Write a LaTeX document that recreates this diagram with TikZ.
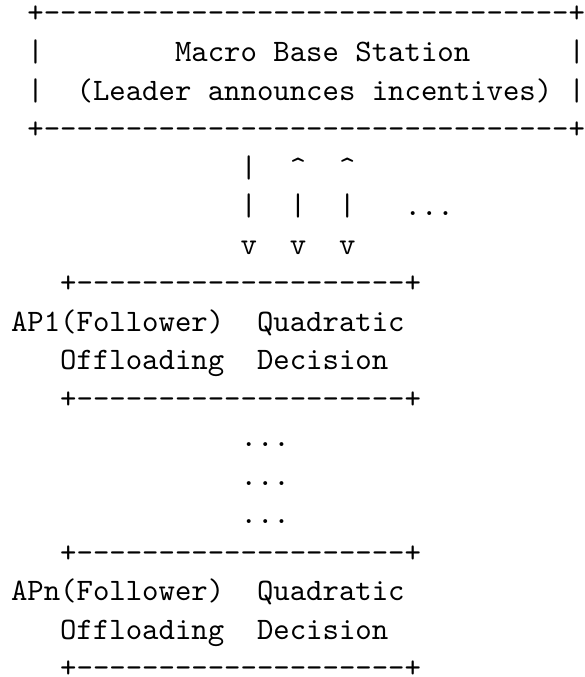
\documentclass[tikz,border=0pt]{standalone}
% Latin Modern Mono at the 10pt design size, scaled up; no TeX ligature mapping
\font\asciifont="[lmmono10-regular]:" at 31.24pt
\newcommand\caret{\char"5E\relax}
\newcommand\wideborder{+--------------------------------+}
\newcommand\narrowborder{+--------------------+}
\tikzset{
  ascii/.style={inner sep=0pt, outer sep=0pt, anchor=base west, font=\asciifont, text=black},
}
\begin{document}
\begin{tikzpicture}
\fill[white] (0pt,0pt) rectangle (584pt,-677pt);
\useasboundingbox (0pt,0pt) rectangle (584pt,-677pt);
% one unit = one character cell (x) and one text line (y)
\begin{scope}[x=16.4pt, y=-38.5pt, shift={(11pt,-23pt)}]
  % macro base station box
  \node[ascii] (mbsTop)    at (1,0) {\wideborder};
  \node[ascii] (mbsL1)     at (1,1) {|};
  \node[ascii] (mbsTitle)  at (10,1) {Macro Base Station};
  \node[ascii] (mbsR1)     at (34,1) {|};
  \node[ascii] (mbsL2)     at (1,2) {|};
  \node[ascii] (mbsRole)   at (4,2) {(Leader announces incentives)};
  \node[ascii] (mbsR2)     at (34,2) {|};
  \node[ascii] (mbsBottom) at (1,3) {\wideborder};
  % links between leader and followers
  \node[ascii] (linkAa) at (14,4) {|};
  \node[ascii] (linkBa) at (17,4) {\caret};
  \node[ascii] (linkCa) at (20,4) {\caret};
  \node[ascii] (linkAb) at (14,5) {|};
  \node[ascii] (linkBb) at (17,5) {|};
  \node[ascii] (linkCb) at (20,5) {|};
  \node[ascii] (linkMore) at (24,5) {...};
  \node[ascii] (linkAc) at (14,6) {v};
  \node[ascii] (linkBc) at (17,6) {v};
  \node[ascii] (linkCc) at (20,6) {v};
  % first follower
  \node[ascii] (apOneTop)    at (3,7) {\narrowborder};
  \node[ascii] (apOneName)   at (0,8) {AP1(Follower)};
  \node[ascii] (apOneQuad)   at (15,8) {Quadratic};
  \node[ascii] (apOneOff)    at (3,9) {Offloading};
  \node[ascii] (apOneDec)    at (15,9) {Decision};
  \node[ascii] (apOneBottom) at (3,10) {\narrowborder};
  % elided followers
  \node[ascii] (gapA) at (14,11) {...};
  \node[ascii] (gapB) at (14,12) {...};
  \node[ascii] (gapC) at (14,13) {...};
  % last follower
  \node[ascii] (apNTop)    at (3,14) {\narrowborder};
  \node[ascii] (apNName)   at (0,15) {APn(Follower)};
  \node[ascii] (apNQuad)   at (15,15) {Quadratic};
  \node[ascii] (apNOff)    at (3,16) {Offloading};
  \node[ascii] (apNDec)    at (15,16) {Decision};
  \node[ascii] (apNBottom) at (3,17) {\narrowborder};
\end{scope}
\end{tikzpicture}
\end{document}
